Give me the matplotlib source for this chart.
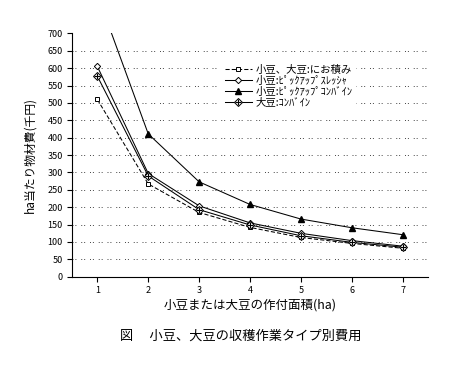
import matplotlib
matplotlib.use("Agg")
import matplotlib.pyplot as plt
from matplotlib.legend_handler import HandlerTuple

plt.rcParams['font.family'] = ['Noto Sans CJK JP', 'DejaVu Sans']

area = [1, 2, 3, 4, 5, 6, 7]
niozumi = [510, 267, 185, 142, 113, 96, 82]
thresher = [605, 297, 204, 155, 125, 104, 88]
pu_combine = [812, 411, 273, 208, 166, 141, 121]
combine = [577, 290, 193, 149, 118, 99, 85]

labels = ["小豆、大豆:にお積み", "小豆:ﾋﾟｯｸｱｯﾌﾟｽﾚｯｼｬ", "小豆:ﾋﾟｯｸｱｯﾌﾟｺﾝﾊﾞｲﾝ", "大豆:ｺﾝﾊﾞｲﾝ"]
yticks = list(range(0, 701, 50))
xticks = area

fig = plt.figure(figsize=(4.55, 3.71), dpi=100)
ax = fig.add_axes([0.158, 0.254, 0.783, 0.656])

lw = 0.75
h1, = ax.plot(area, niozumi, color='black', lw=lw, ls=(0, (4, 2)), marker='s', ms=3,
              mfc='white', mec='black', mew=0.7)
h2, = ax.plot(area, thresher, color='black', lw=lw, marker='D', ms=3.2,
              mfc='white', mec='black', mew=0.7)
h3, = ax.plot(area, pu_combine, color='black', lw=lw, marker='^', ms=4.8,
              mfc='black', mec='black')
h4a, = ax.plot(area, combine, color='black', lw=lw, marker='D', ms=3.8,
               mfc='white', mec='black', mew=0.7)
h4b, = ax.plot(area, combine, color='black', lw=0, marker='+', ms=4.6, mew=0.8)

ax.set_xlim(0.5, 7.5)
ax.set_ylim(0, 700)
ax.set_yticks(yticks)
ax.set_xticks(xticks)
ax.tick_params(axis='both', direction='out', length=3.5, width=0.8, labelsize=6.5, pad=3)

for v in yticks[1:-1]:
    ax.axhline(v, color='#444444', lw=0.7, ls=(0, (1, 2, 1, 5)), zorder=0)

for s in ['top', 'right']:
    ax.spines[s].set_visible(False)
for s in ['left', 'bottom']:
    ax.spines[s].set_linewidth(0.8)

ax.set_ylabel("ha当たり物材費(千円)", fontsize=8.5, labelpad=8)
ax.set_xlabel("小豆または大豆の作付面積(ha)", fontsize=9, labelpad=3)

leg = ax.legend([h1, h2, h3, (h4a, h4b)], labels, loc='upper left',
                bbox_to_anchor=(0.405, 0.905), fontsize=7.5, frameon=True,
                facecolor='white', edgecolor='none', framealpha=1,
                handlelength=2.6, handletextpad=0.4, labelspacing=0.08,
                borderpad=0.3, handler_map={tuple: HandlerTuple(ndivide=1)})
leg.get_frame().set_linewidth(0)

fig.text(0.53, 0.095, "図　 小豆、大豆の収穫作業タイプ別費用", ha='center', va='center', fontsize=9.5)

fig.savefig("out.png", dpi=100)
